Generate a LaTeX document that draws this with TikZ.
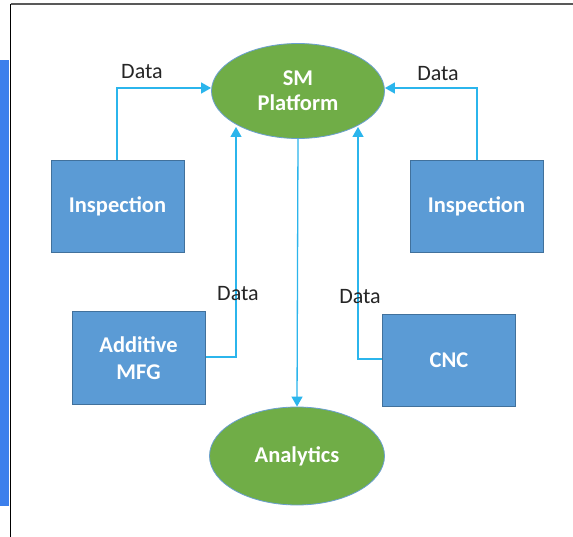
\documentclass[tikz,border=0pt]{standalone}
\usepackage{fontspec}
\setmainfont{Carlito}
\usetikzlibrary{arrows.meta,shapes.geometric}
\definecolor{boxblue}{HTML}{5B9BD5}
\definecolor{boxedge}{HTML}{41719C}
\definecolor{ovalgreen}{HTML}{70AD47}
\definecolor{ovaledge}{HTML}{6A9FCF}
\definecolor{flow}{HTML}{2BB5EC}
\definecolor{sidebar}{HTML}{3C7FEC}
\tikzset{
  unitbox/.style={draw=boxedge, line width=1pt, fill=boxblue, minimum width=133pt,
    minimum height=92pt, inner sep=0pt, text=white, align=center,
    font=\fontsize{22.5}{26.5}\selectfont\bfseries},
  oval/.style={ellipse, draw=ovaledge, line width=0.8pt, fill=ovalgreen, inner sep=0pt,
    text=white, align=center, font=\fontsize{22.5}{25}\selectfont\bfseries},
  link/.style={draw=flow, line width=1.3pt, -{Triangle[length=10pt,width=11pt]}},
  tag/.style={inner sep=0pt, text=black!85, font=\fontsize{22}{25}\selectfont}
}
\begin{document}
\begin{tikzpicture}[x=1pt,y=-1pt]
  \useasboundingbox (0,0) rectangle (573,537);
  \fill[white] (0,0) rectangle (573,537);
  % page frame
  \fill[sidebar] (0,60) rectangle (9,506);
  \draw[black!65, line width=1.2pt] (10.5,4) -- (573,4);
  \draw[black, line width=1.2pt] (10.5,4) -- (10.5,537);
  % ovals
  \node[oval, minimum width=173pt, minimum height=95pt] (sm) at (298,91) {SM\\Platform};
  \node[oval, minimum width=175pt, minimum height=98pt] (an) at (297,456) {Analytics};
  % boxes
  \node[unitbox] (inspL) at (117.5,206.5) {Inspection};
  \node[unitbox] (inspR) at (476.5,206.5) {Inspection};
  \node[unitbox] (addm) at (138.5,358) {Additive\\MFG};
  \node[unitbox] (cnc) at (449,360.5) {CNC};
  % bend points
  \coordinate (c1) at (117,88);
  \coordinate (c2) at (477,88);
  \coordinate (c3) at (236,357);
  \coordinate (c4) at (358,359);
  \coordinate (t3) at (236,127);
  \coordinate (t4) at (358,127);
  % connectors
  \draw[link] (inspL.north -| c1) -- (c1) -- (sm.west |- c1);
  \draw[link] (inspR.north -| c2) -- (c2) -- (sm.east |- c2);
  \draw[link] (addm.east |- c3) -- (c3) -- (t3);
  \draw[link] (cnc.west |- c4) -- (c4) -- (t4);
  \draw[link] (sm.south) -- (an.north);
  % labels
  \node[tag] (d1) at (142,72) {Data};
  \node[tag] (d2) at (438,74) {Data};
  \node[tag] (d3) at (238,294) {Data};
  \node[tag] (d4) at (360,297) {Data};
\end{tikzpicture}
\end{document}
